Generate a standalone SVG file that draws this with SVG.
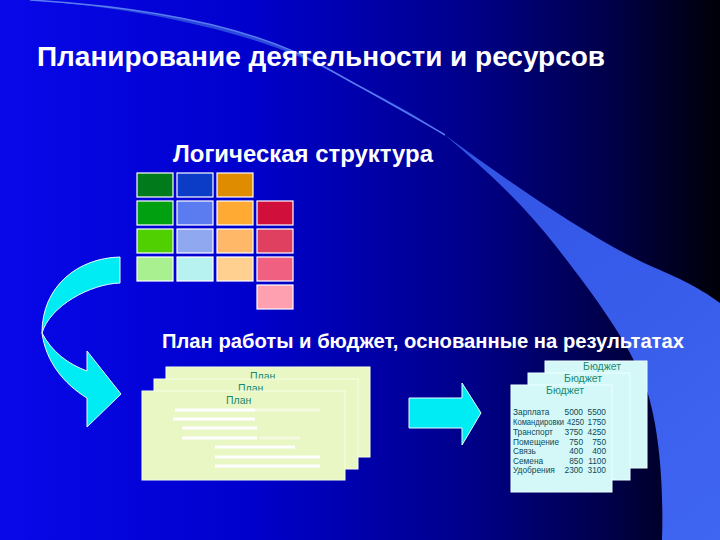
<svg xmlns="http://www.w3.org/2000/svg" width="720" height="540" viewBox="0 0 720 540">
<defs>
<linearGradient id="bg" x1="0" y1="0" x2="1" y2="0">
<stop offset="0" stop-color="#0808ea"/>
<stop offset="0.35" stop-color="#0000cc"/>
<stop offset="0.65" stop-color="#00008a"/>
<stop offset="0.85" stop-color="#000048"/>
<stop offset="1" stop-color="#000008"/>
</linearGradient>
<linearGradient id="sw" x1="0" y1="0" x2="1" y2="1">
<stop offset="0" stop-color="#2644d8"/>
<stop offset="1" stop-color="#3f66f2"/>
</linearGradient>
<style>
.t{font-family:"Liberation Sans",Arial,sans-serif;font-weight:bold;fill:#fff}
.c{stroke:#fff;stroke-width:1.2}
.plan{fill:#e8f7c4;stroke:#f6ffe6;stroke-width:1}
.bud{fill:#d4f8f8;stroke:#ecffff;stroke-width:1}
.lbl{font-family:"Liberation Sans",Arial,sans-serif;font-size:10.5px;fill:#188a70}
.tb{font-family:"Liberation Sans",Arial,sans-serif;font-size:8.3px;fill:#0a4a5a}
.ln{stroke:#fff;stroke-width:3}
.fl{stroke:#f4fbe2;stroke-width:3}
.cy{fill:#00ecf4;stroke:#e8ffff;stroke-width:1}
</style>
</defs>
<rect width="720" height="540" fill="url(#bg)"/>
<g id="swoosh">
<path d="M30,0 C130,6 250,22 330,70 C400,110 440,130 445,135 C520,190 600,245 660,270 C690,283 705,292 720,303 L720,540 L662,540 C664,480 658,420 645,385 C628,340 590,290 555,245 C520,200 480,165 445,135 C420,118 380,95 340,76 C260,32 140,8 30,0 Z" fill="url(#sw)"/>
<path d="M30,0 C130,6 250,22 330,70 C380,98 420,120 445,135" fill="none" stroke="#5a7cf0" stroke-width="1.5"/>
</g>
<g id="title"><text class="t" x="37" y="66" font-size="27" textLength="568" lengthAdjust="spacingAndGlyphs">Планирование деятельности и ресурсов</text></g>
<g id="logframe">
<text class="t" x="173" y="162" font-size="23" textLength="260" lengthAdjust="spacingAndGlyphs">Логическая структура</text>
<rect class="c" x="137" y="173" width="36" height="24" fill="#007a1a"/>
<rect class="c" x="177" y="173" width="36" height="24" fill="#0a3cc8"/>
<rect class="c" x="217" y="173" width="36" height="24" fill="#e08c00"/>
<rect class="c" x="137" y="201" width="36" height="24" fill="#00a010"/>
<rect class="c" x="177" y="201" width="36" height="24" fill="#5a7cf0"/>
<rect class="c" x="217" y="201" width="36" height="24" fill="#ffaa33"/>
<rect class="c" x="257" y="201" width="36" height="24" fill="#d0103a"/>
<rect class="c" x="137" y="229" width="36" height="24" fill="#50d000"/>
<rect class="c" x="177" y="229" width="36" height="24" fill="#90a8f0"/>
<rect class="c" x="217" y="229" width="36" height="24" fill="#ffb868"/>
<rect class="c" x="257" y="229" width="36" height="24" fill="#e04060"/>
<rect class="c" x="137" y="257" width="36" height="24" fill="#a8f090"/>
<rect class="c" x="177" y="257" width="36" height="24" fill="#b8f2f0"/>
<rect class="c" x="217" y="257" width="36" height="24" fill="#ffd090"/>
<rect class="c" x="257" y="257" width="36" height="24" fill="#f06080"/>
<rect class="c" x="257" y="285" width="36" height="24" fill="#ffa0b0"/>
</g>
<g id="heading2"><text class="t" x="162" y="348" font-size="20" textLength="522" lengthAdjust="spacingAndGlyphs">План работы и бюджет, основанные на результатах</text></g>
<g id="plan">
<rect class="plan" x="166" y="367" width="204" height="90"/>
<text class="lbl" x="250" y="380">План</text>
<rect class="plan" x="154" y="379" width="204" height="90"/>
<text class="lbl" x="238" y="392">План</text>
<rect class="plan" x="142" y="391" width="203" height="89"/>
<text class="lbl" x="226" y="404">План</text>
<line class="ln" x1="175" y1="410" x2="255" y2="410"/>
<line class="ln" x1="173" y1="419" x2="255" y2="419"/>
<line class="ln" x1="182" y1="428" x2="257" y2="428"/>
<line class="ln" x1="182" y1="438" x2="257" y2="438"/>
<line class="ln" x1="215" y1="447" x2="295" y2="447"/>
<line class="ln" x1="215" y1="457" x2="320" y2="457"/>
<line class="ln" x1="215" y1="466" x2="320" y2="466"/>
<line class="fl" x1="255" y1="410" x2="320" y2="410"/>
<line class="fl" x1="260" y1="438" x2="300" y2="438"/>
</g>
<g id="budget">
<rect class="bud" x="545" y="361" width="102" height="107"/>
<text class="lbl" x="583" y="370">Бюджет</text>
<rect class="bud" x="528" y="373" width="102" height="107"/>
<text class="lbl" x="564" y="382">Бюджет</text>
<rect class="bud" x="511" y="385" width="101" height="107"/>
<text class="lbl" x="546" y="394">Бюджет</text>
<g class="tb">
<text x="513" y="415">Зарплата</text><text x="583" y="415" text-anchor="end">5000</text><text x="606" y="415" text-anchor="end">5500</text>
<text x="513" y="425" textLength="51" lengthAdjust="spacingAndGlyphs">Командировки</text><text x="584" y="425" text-anchor="end" textLength="17" lengthAdjust="spacingAndGlyphs">4250</text><text x="606" y="425" text-anchor="end">1750</text>
<text x="513" y="435">Транспорт</text><text x="583" y="435" text-anchor="end">3750</text><text x="606" y="435" text-anchor="end">4250</text>
<text x="513" y="445">Помещение</text><text x="583" y="445" text-anchor="end">750</text><text x="606" y="445" text-anchor="end">750</text>
<text x="513" y="454">Связь</text><text x="583" y="454" text-anchor="end">400</text><text x="606" y="454" text-anchor="end">400</text>
<text x="513" y="464">Семена</text><text x="583" y="464" text-anchor="end">850</text><text x="606" y="464" text-anchor="end">1100</text>
<text x="513" y="473">Удобрения</text><text x="583" y="473" text-anchor="end">2300</text><text x="606" y="473" text-anchor="end">3100</text>
</g>
</g>
<g id="connectors">
<path class="cy" d="M120,257 C78,258 42,286 42,333 C46,362 64,384 87,398 L87,427 L121,394 L87,351 L87,371 C68,364 52,352 42,333 C50,306 90,284 120,283 Z"/>
<path class="cy" d="M409,398 L462,398 L462,383 L481,413 L462,445 L462,428 L409,428 Z"/>
</g>
</svg>
